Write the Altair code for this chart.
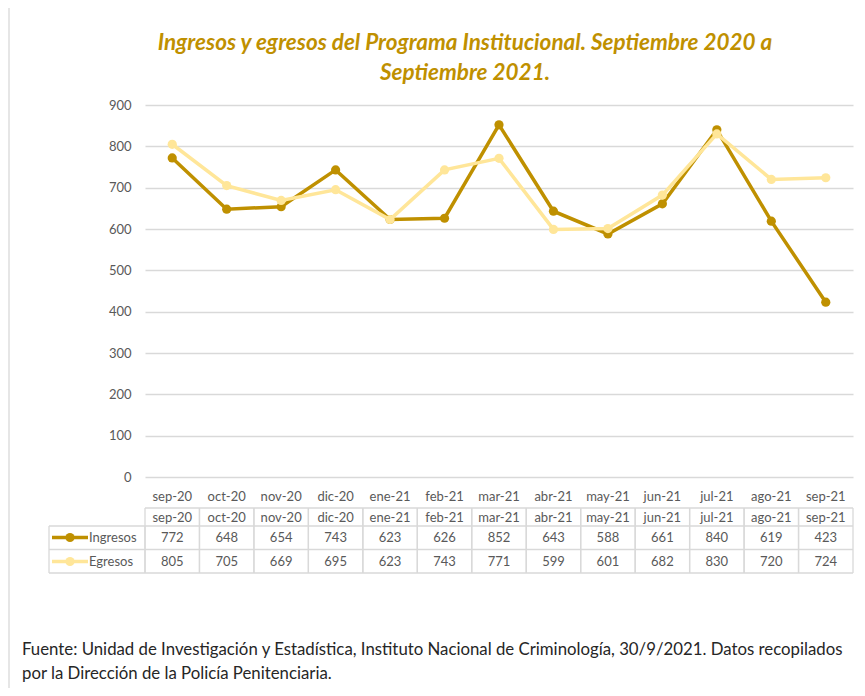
import altair as alt
import pandas as pd

months = ["sep-20", "oct-20", "nov-20", "dic-20", "ene-21", "feb-21", "mar-21",
          "abr-21", "may-21", "jun-21", "jul-21", "ago-21", "sep-21"]
ingresos = [772, 648, 654, 743, 623, 626, 852, 643, 588, 661, 840, 619, 423]
egresos = [805, 705, 669, 695, 623, 743, 771, 599, 601, 682, 830, 720, 724]
series = ["Ingresos", "Egresos"]
y_ticks = [0, 100, 200, 300, 400, 500, 600, 700, 800, 900]

title_lines = ["Ingresos y egresos del Programa Institucional.  Septiembre 2020 a",
               "Septiembre 2021."]
footer_lines = ["Fuente: Unidad de Investigación y Estadística, Instituto Nacional de Criminología, 30/9/2021. Datos recopilados",
                "por la Dirección de la Policía Penitenciaria."]

DARK = "#BF9000"
LIGHT = "#FFE699"
GRAY = "#595959"
GRID = "#D9D9D9"
FONT = "Lato"

W, H = 708, 372

rows = []
for m, a, b in zip(months, ingresos, egresos):
    rows.append({"mes": m, "serie": "Ingresos", "valor": a})
    rows.append({"mes": m, "serie": "Egresos", "valor": b})
df = pd.DataFrame(rows)
dfm = pd.DataFrame({"mes": months})
one = pd.DataFrame({"k": [0]})

xscale = alt.Scale(type="band", domain=months, paddingInner=0, paddingOuter=0)
colors = {"Ingresos": DARK, "Egresos": LIGHT}

base_x = alt.X("mes:N", sort=months, scale=xscale, bandPosition=0.5,
               axis=alt.Axis(title=None, domain=False, ticks=False, grid=False,
                             labelFont=FONT, labelFontSize=13, labelColor=GRAY,
                             labelPadding=13, labelAngle=0))
yenc = alt.Y("valor:Q", scale=alt.Scale(domain=[0, 900], nice=False),
             axis=alt.Axis(title=None, values=y_ticks, domain=False, ticks=False,
                           gridColor=GRID, gridWidth=1.3, labelFont=FONT,
                           labelFontSize=13, labelColor=GRAY, labelPadding=14))

layers = []
for s in series:
    d = df[df.serie == s]
    layers.append(alt.Chart(d).mark_line(color=colors[s], strokeWidth=3.5).encode(x=base_x, y=yenc))
    layers.append(alt.Chart(d).mark_point(color=colors[s], filled=True, opacity=1, size=85).encode(x=base_x, y=yenc))

# table geometry (plot coordinates)
Y_TOP, Y_HDR, Y_ROW1, Y_BOT = 403, 421, 444.5, 468
row_y = {"Ingresos": 432.5, "Egresos": 456.5}
LBL_X0 = -96

xplain = alt.X("mes:N", sort=months, scale=xscale, bandPosition=0.5)
for bp in (0, 1):
    layers.append(alt.Chart(dfm).mark_rule(color=GRID, strokeWidth=1.3).encode(
        x=alt.X("mes:N", sort=months, scale=xscale, bandPosition=bp),
        y=alt.value(Y_TOP), y2=alt.value(Y_BOT)))
# horizontal table lines
layers.append(alt.Chart(one).mark_rule(color=GRID, strokeWidth=1.3).encode(
    x=alt.value(0), x2=alt.value(W), y=alt.value(Y_TOP)))
for yy in (Y_HDR, Y_ROW1, Y_BOT):
    layers.append(alt.Chart(one).mark_rule(color=GRID, strokeWidth=1.3).encode(
        x=alt.value(LBL_X0), x2=alt.value(W), y=alt.value(yy)))
for xx in (LBL_X0, 0):
    layers.append(alt.Chart(one).mark_rule(color=GRID, strokeWidth=1.3).encode(
        x=alt.value(xx), y=alt.value(Y_HDR), y2=alt.value(Y_BOT)))

# header row text
layers.append(alt.Chart(dfm).mark_text(font=FONT, fontSize=13, color=GRAY).encode(
    x=xplain, y=alt.value((Y_TOP + Y_HDR) / 2 + 1), text="mes:N"))
# values and legend keys
for s in series:
    d = df[df.serie == s]
    layers.append(alt.Chart(d).mark_text(font=FONT, fontSize=13, color=GRAY).encode(
        x=xplain, y=alt.value(row_y[s]), text="valor:Q"))
    layers.append(alt.Chart(one).mark_rule(color=colors[s], strokeWidth=3.5).encode(
        x=alt.value(-93), x2=alt.value(-57), y=alt.value(row_y[s])))
    layers.append(alt.Chart(one).mark_point(color=colors[s], filled=True, opacity=1, size=85).encode(
        x=alt.value(-75), y=alt.value(row_y[s])))
    layers.append(alt.Chart(one).mark_text(font=FONT, fontSize=13, color=GRAY, align="left").encode(
        x=alt.value(-56), y=alt.value(row_y[s]), text=alt.value(s)))

# title (two lines)
layers.append(alt.Chart(one).mark_text(font=FONT, fontSize=22.5, fontStyle="italic", fontWeight="bold",
                                       color=DARK, align="center", baseline="middle", lineHeight=30).encode(
    x=alt.value(320), y=alt.value(-62), text=alt.value(title_lines)))
# footer
layers.append(alt.Chart(one).mark_text(font=FONT, fontSize=16.8, color="#262626", align="left",
                                       baseline="middle", lineHeight=24).encode(
    x=alt.value(-123), y=alt.value(545), text=alt.value(footer_lines)))
# outer border line on the left
layers.append(alt.Chart(one).mark_rule(color=GRID, strokeWidth=1.3).encode(
    x=alt.value(-136), y=alt.value(-97), y2=alt.value(583)))

chart = alt.layer(*layers).properties(
    width=W, height=H,
    autosize=alt.AutoSizeParams(type="none"),
    padding={"left": 137, "top": 97, "right": 4, "bottom": 211},
).configure_view(stroke=None)

chart.save("out.html", embed_options={"renderer": "svg", "actions": False})
